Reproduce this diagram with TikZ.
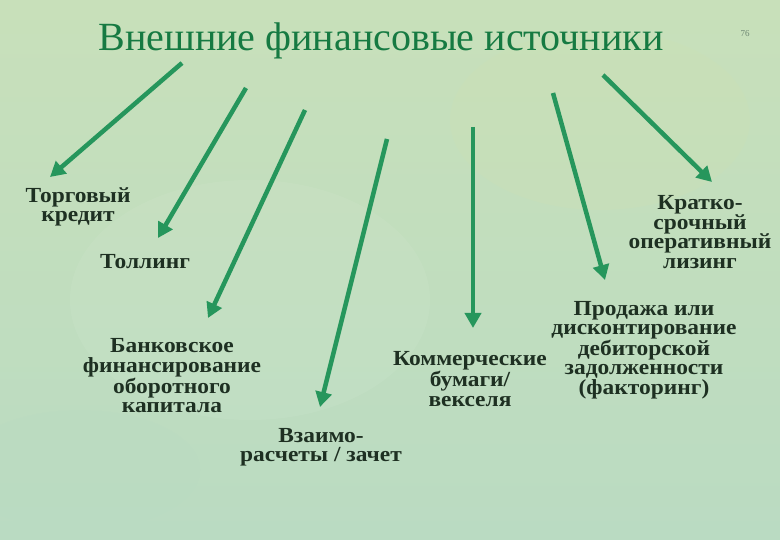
\documentclass[tikz,border=0pt]{standalone}
\usepackage{fontspec}
\setmainfont{Liberation Serif}
\newfontfamily\lblfont{Liberation Serif}[FakeStretch=1.09]
\usetikzlibrary{arrows.meta}
\definecolor{bgA}{RGB}{200,224,186}
\definecolor{bgB}{RGB}{186,219,194}
\definecolor{bgC}{RGB}{205,225,180}
\definecolor{titlegreen}{RGB}{22,122,66}
\definecolor{arrowgreen}{RGB}{38,150,92}
\definecolor{textdark}{RGB}{30,48,34}
\definecolor{pagenum}{RGB}{110,135,115}
\tikzset{
  lbl/.style={inner sep=0pt, align=center, text=textdark,
    font=\lblfont\bfseries\fontsize{21.5}{19.5}\selectfont},
  arr/.style={draw=arrowgreen, line width=4.5pt,
    -{Triangle[length=15pt,width=16pt]}},
}
\begin{document}
\begin{tikzpicture}[x=1pt,y=-1pt]
\useasboundingbox (0,0) rectangle (780,540);
\shade[left color=bgA, right color=bgB, shading angle=0] (0,0) rectangle (780,540);
\fill[white, opacity=0.06] (250,300) ellipse (180 and 120);
\fill[bgB, opacity=0.4] (80,470) ellipse (120 and 60);
\fill[bgC, opacity=0.3] (600,120) ellipse (150 and 90);

\node[anchor=base, text=titlegreen, inner sep=0pt, font=\fontsize{40}{40}\selectfont] (title) at (381,51) {Внешние финансовые источники};
\node[anchor=base, text=pagenum, inner sep=0pt, font=\fontsize{9}{9}\selectfont] (page) at (745,37) {76};

\node[lbl] (torg) at (78,207) {Торговый\\кредит};
\node[lbl] (toll) at (145,262) {Толлинг};
\node[lbl] (bank) at (172,376) {Банковское\\финансирование\\оборотного\\капитала};
\node[lbl] (vzaim) at (321,447) {Взаимо-\\расчеты / зачет};
\node[lbl] (komm) at (470,379) {Коммерческие\\бумаги/\\векселя};
\node[lbl] (prod) at (644,350) {Продажа или\\дисконтирование\\дебиторской\\задолженности\\(факторинг)};
\node[lbl] (krat) at (700,232) {Кратко-\\срочный\\оперативный\\лизинг};

\coordinate (s1) at (182,63);  \coordinate (t1) at (50,177);
\coordinate (s2) at (246,88);  \coordinate (t2) at (158,238);
\coordinate (s3) at (305,110); \coordinate (t3) at (208,318);
\coordinate (s4) at (387,139); \coordinate (t4) at (320,407);
\coordinate (s5) at (473,127); \coordinate (t5) at (473,328);
\coordinate (s6) at (553,93);  \coordinate (t6) at (605,280);
\coordinate (s7) at (603,75);  \coordinate (t7) at (712,182);

\draw[arr] (s1) -- (t1);
\draw[arr] (s2) -- (t2);
\draw[arr] (s3) -- (t3);
\draw[arr] (s4) -- (t4);
\draw[arr] (s5) -- (t5);
\draw[arr] (s6) -- (t6);
\draw[arr] (s7) -- (t7);
\end{tikzpicture}
\end{document}
